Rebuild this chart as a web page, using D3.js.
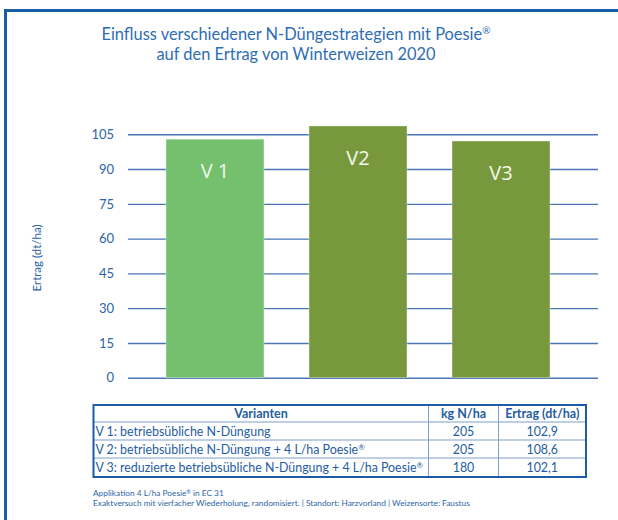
<!DOCTYPE html>
<html>
<head>
<meta charset="utf-8">
<script src="https://cdn.jsdelivr.net/npm/d3@7"></script>
<style>
  body { margin: 0; background: #fff; }
  svg { display: block; font-family: Lato, "Open Sans", sans-serif; }
</style>
</head>
<body>
<div id="chart"></div>
<script>
// data
const variants = ["V 1", "V2", "V3"];
const yields = [102.9, 108.6, 102.1];
const barColors = ["#74c06f", "#77983c", "#77983c"];
const yTicks = [0, 15, 30, 45, 60, 75, 90, 105];

const tableHeader = ["Varianten", "kg N/ha", "Ertrag (dt/ha)"];
const rowLabels = [
  ["V 1: betriebsübliche N-Düngung", ""],
  ["V 2: betriebsübliche N-Düngung + 4 L/ha Poesie", "®"],
  ["V 3: reduzierte betriebsübliche N-Düngung + 4 L/ha Poesie", "®"]
];
const nRates = ["205", "205", "180"];
const yieldLabels = ["102,9", "108,6", "102,1"];

const width = 618, height = 520;
const blue = "#2c64a8";
const dark = "#1f5ca2";

const svg = d3.select("#chart").append("svg")
  .attr("width", width)
  .attr("height", height);

// frame (right/bottom edges run off the picture)
svg.append("rect")
  .attr("x", 5.5).attr("y", 10.5)
  .attr("width", 640).attr("height", 540)
  .attr("fill", "none")
  .attr("stroke", "#1a5ca6")
  .attr("stroke-width", 3);

// title
const title = svg.append("text")
  .attr("text-anchor", "middle")
  .attr("fill", "#2e6db4")
  .attr("font-size", "16.4px");
title.append("tspan").attr("x", 296).attr("y", 40)
  .text("Einfluss verschiedener N-Düngestrategien mit Poesie");
title.append("tspan").attr("font-size", "10px").attr("dy", -6).text("®");
title.append("tspan").attr("x", 296).attr("y", 60)
  .text("auf den Ertrag von Winterweizen 2020");

// scales
const y = d3.scaleLinear().domain([0, 105]).range([377.7, 134.3]);
const x = d3.scaleBand().domain(variants).range([143.5, 572.5])
  .paddingInner(0.315).paddingOuter(0.1575);

// grid + tick labels
const yAxis = svg.append("g")
  .attr("transform", "translate(128,0)")
  .call(d3.axisLeft(y).tickValues(yTicks).tickSize(-470).tickPadding(14));
yAxis.select(".domain").remove();
yAxis.selectAll(".tick line").attr("stroke", "#4a76b5").attr("stroke-width", 1.4);
yAxis.selectAll(".tick text")
  .attr("fill", blue)
  .attr("font-size", "13px")
  .attr("font-family", "Lato, sans-serif");

// y title
svg.append("text")
  .attr("transform", "translate(41,258) rotate(-90)")
  .attr("text-anchor", "middle")
  .attr("fill", blue)
  .attr("font-size", "11.5px")
  .text("Ertrag (dt/ha)");

// bars
svg.selectAll("rect.bar")
  .data(yields)
  .join("rect")
  .attr("class", "bar")
  .attr("x", (d, i) => x(variants[i]))
  .attr("y", d => y(d))
  .attr("width", x.bandwidth())
  .attr("height", d => y(0) - y(d))
  .attr("fill", (d, i) => barColors[i])
  .attr("stroke", "rgba(255,255,255,0.35)")
  .attr("stroke-width", 1);

svg.selectAll("text.barlabel")
  .data(yields)
  .join("text")
  .attr("class", "barlabel")
  .attr("x", (d, i) => x(variants[i]) + x.bandwidth() / 2)
  .attr("y", d => y(d) + 39)
  .attr("text-anchor", "middle")
  .attr("fill", "#f4f8ee")
  .attr("font-size", "20px")
  .attr("font-family", "'Open Sans', sans-serif")
  .text((d, i) => variants[i]);

// table
const tbl = svg.append("g");
const tx0 = 93.5, tx1 = 428.5, tx2 = 498.5, tx3 = 586;
const rowsY = [405, 422, 440, 458, 477];

rowsY.slice(1, -1).forEach(ry => {
  tbl.append("line")
    .attr("x1", tx0).attr("x2", tx3).attr("y1", ry).attr("y2", ry)
    .attr("stroke", "#7f9fcc").attr("stroke-width", 1);
});
[tx1, tx2].forEach(cx => {
  tbl.append("line")
    .attr("x1", cx).attr("x2", cx).attr("y1", rowsY[0]).attr("y2", rowsY[4])
    .attr("stroke", "#7f9fcc").attr("stroke-width", 1);
});
tbl.append("rect")
  .attr("x", tx0).attr("y", rowsY[0])
  .attr("width", tx3 - tx0).attr("height", rowsY[4] - rowsY[0])
  .attr("fill", "none")
  .attr("stroke", "#1a5ca6")
  .attr("stroke-width", 2);

const colCenters = [(tx0 + tx1) / 2, (tx1 + tx2) / 2, (tx2 + tx3) / 2];
tableHeader.forEach((h, i) => {
  tbl.append("text")
    .attr("x", colCenters[i]).attr("y", 418)
    .attr("text-anchor", "middle")
    .attr("fill", dark)
    .attr("font-size", "12.5px")
    .attr("font-weight", "bold")
    .text(h);
});

rowLabels.forEach((r, i) => {
  const base = rowsY[i + 1] + 13.5;
  const t = tbl.append("text")
    .attr("x", tx0 + 2).attr("y", base)
    .attr("fill", dark)
    .attr("font-size", "12.4px");
  t.append("tspan").text(r[0]);
  if (r[1]) t.append("tspan").attr("font-size", "8px").attr("dy", -4).text(r[1]);

  tbl.append("text")
    .attr("x", colCenters[1]).attr("y", base)
    .attr("text-anchor", "middle")
    .attr("fill", dark).attr("font-size", "12.4px")
    .text(nRates[i]);
  tbl.append("text")
    .attr("x", colCenters[2]).attr("y", base)
    .attr("text-anchor", "middle")
    .attr("fill", dark).attr("font-size", "12.4px")
    .text(yieldLabels[i]);
});

// footnote
const fn = svg.append("text")
  .attr("fill", blue)
  .attr("font-size", "8.3px");
fn.append("tspan").attr("x", 93).attr("y", 496).text("Applikation 4 L/ha Poesie");
fn.append("tspan").attr("font-size", "5.5px").attr("dy", -2.5).text("®");
fn.append("tspan").attr("dy", 2.5).text(" in EC 31");
fn.append("tspan").attr("x", 93).attr("y", 506)
  .text("Exaktversuch mit vierfacher Wiederholung, randomisiert. | Standort: Harzvorland | Weizensorte: Faustus");
</script>
</body>
</html>
